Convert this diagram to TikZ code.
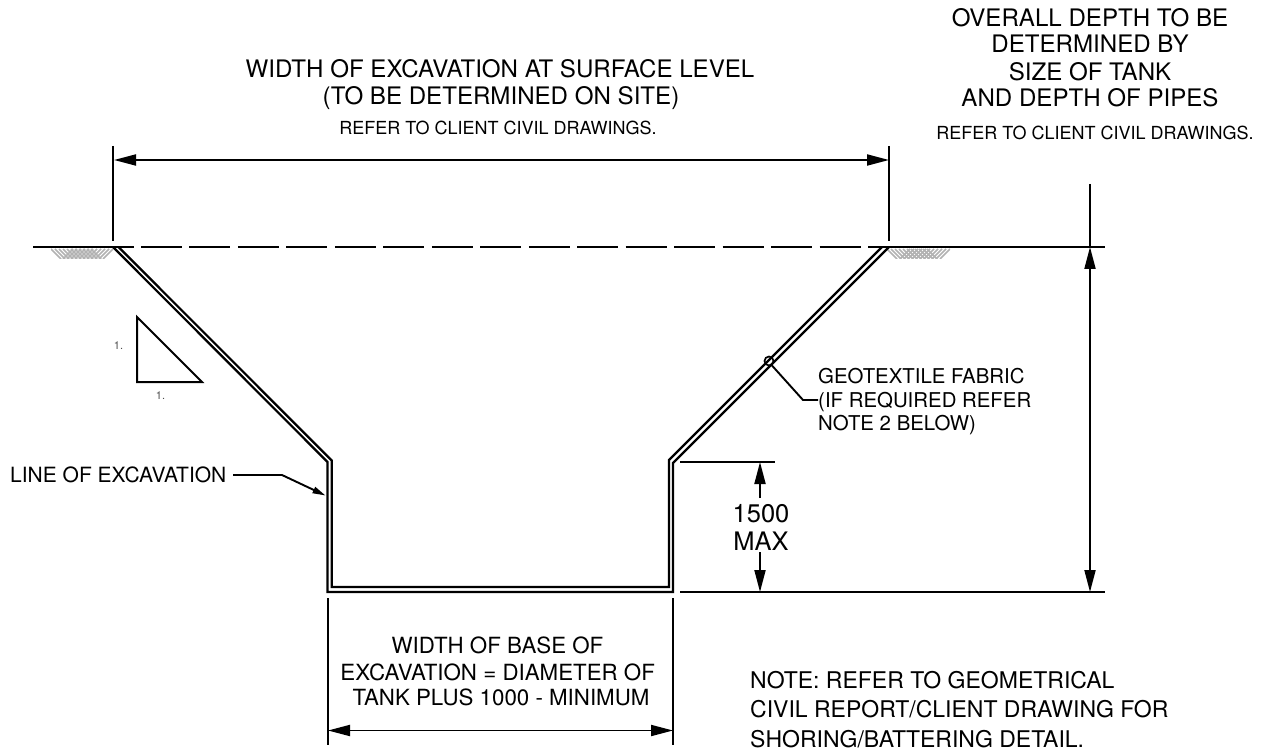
\documentclass[tikz,border=0pt]{standalone}
\usepackage{fontspec}
\setmainfont{TeX Gyre Heros}
\usetikzlibrary{arrows.meta}
\tikzset{
  x=1pt,y=-1pt,
  ln/.style={line width=2pt,black},
  heavy/.style={line width=2.7pt,black},
  dbl/.style={line width=2.2pt,black,line join=miter},
  dim/.style={line width=1.9pt,black,{Triangle[length=22pt,width=11pt]}-{Triangle[length=22pt,width=11pt]}},
  dimend/.style={line width=1.9pt,black,-{Triangle[length=22pt,width=11pt]}},
  lead/.style={line width=1.9pt,black},
  hatchline/.style={line width=1.6pt,black!30},
  big/.style={inner sep=0pt,anchor=base,font=\fontsize{24.1}{26}\selectfont},
  mid/.style={inner sep=0pt,anchor=base,font=\fontsize{18}{20}\selectfont},
  base/.style={inner sep=0pt,anchor=base,font=\fontsize{22.3}{24}\selectfont},
  note/.style={inner sep=0pt,anchor=base west,font=\fontsize{23}{24}\selectfont},
  midl/.style={inner sep=0pt,anchor=base west,font=\fontsize{20.4}{22}\selectfont},
  tiny1/.style={inner sep=0pt,anchor=base,text=black!70,font=\fontsize{11}{12}\selectfont},
  huge1/.style={inner sep=0pt,anchor=base,font=\fontsize{25.5}{26}\selectfont},
}
\begin{document}
\begin{tikzpicture}
\useasboundingbox (0,0) rectangle (1266,751);
% ground hatching
\begin{scope}
\clip (51,249) rectangle (113,259);
\foreach \i in {0,...,10}{
  \draw[hatchline] (51+\i*4,249) -- (51+\i*4+10,259);
  \draw[hatchline] (113-\i*4,249) -- (113-\i*4-10,259);
}
\end{scope}
\begin{scope}
\clip (887,249) rectangle (950,259);
\foreach \i in {0,...,10}{
  \draw[hatchline] (887+\i*4,249) -- (887+\i*4+10,259);
  \draw[hatchline] (950-\i*4,249) -- (950-\i*4-10,259);
}
\end{scope}
% named points
\coordinate (gl) at (33,247);
\coordinate (gA) at (113,247);
\coordinate (gB) at (889,247);
\coordinate (gC) at (968,247);
\coordinate (gD) at (1105,247);
\coordinate (gA2) at (134,247);
\coordinate (d1) at (141,247);
\coordinate (d2) at (868,247);
% ground line
\draw[heavy] (gl) -- (gA);
\draw[ln] (gA) -- (gA2);
\draw[ln,dash pattern=on 41pt off 7.47pt] (d1) -- (d2);
\draw[ln] (d2) -- (gB);
\draw[heavy] (gB) -- (gC);
\draw[ln] (gC) -- (gD);
% excavation double line
\coordinate (o1) at (113,247);
\coordinate (o2) at (327.5,462);
\coordinate (o3) at (327.5,592);
\coordinate (o4) at (673,592);
\coordinate (o5) at (673,463);
\coordinate (o6) at (889,247);
\coordinate (i1) at (118.5,247);
\coordinate (i2) at (331.7,460.5);
\coordinate (i3) at (331.7,587);
\coordinate (i4) at (669,587);
\coordinate (i5) at (669,460);
\coordinate (i6) at (882,247);
\draw[dbl] (o1) -- (o2) -- (o3) -- (o4) -- (o5) -- (o6);
\draw[dbl] (i1) -- (i2) -- (i3) -- (i4) -- (i5) -- (i6);
% top width dimension
\coordinate (ta) at (113,146);
\coordinate (tb) at (113,241);
\coordinate (tc) at (889,146);
\coordinate (td) at (889,241);
\coordinate (ah1) at (114,160);
\coordinate (ah2) at (889,160);
\draw[ln] (ta) -- (tb);
\draw[ln] (tc) -- (td);
\draw[dim] (ah1) -- (ah2);
% depth dimension
\coordinate (vt) at (1090,184);
\coordinate (v1) at (1090,247);
\coordinate (v2) at (1090,592);
\draw[ln] (vt) -- (v1);
\draw[dim] (v1) -- (v2);
% 1500 max
\coordinate (e1) at (680,462);
\coordinate (e2) at (775,462);
\coordinate (e3) at (680,592);
\coordinate (e4) at (1105,592);
\draw[ln] (e1) -- (e2);
\draw[ln] (e3) -- (e4);
\coordinate (m1) at (760,498);
\coordinate (m2) at (760,462);
\coordinate (m3) at (760,552);
\coordinate (m4) at (760,592);
\draw[dimend] (m1) -- (m2);
\draw[dimend] (m3) -- (m4);
% base width dimension
\coordinate (b1) at (328,598);
\coordinate (b2) at (328,745);
\coordinate (b3) at (673,598);
\coordinate (b4) at (673,745);
\coordinate (b5) at (328,730.5);
\coordinate (b6) at (673,730.5);
\draw[ln] (b1) -- (b2);
\draw[ln] (b3) -- (b4);
\draw[dim] (b5) -- (b6);
% slope triangle
\coordinate (s1) at (137,317);
\coordinate (s2) at (137,382);
\coordinate (s3) at (202,382);
\draw[ln,line join=miter] (s1) -- (s2) -- (s3) -- cycle;
% leaders
\coordinate (g0) at (769,361);
\coordinate (g1) at (771.5,365);
\coordinate (g2) at (803,400);
\coordinate (g3) at (818,400);
\draw[line width=1.7pt] (g0) circle (4.5);
\draw[lead] (g1) -- (g2) -- (g3);
\coordinate (l0) at (233,475);
\coordinate (l1) at (282,475);
\coordinate (l2) at (325.5,495.5);
\draw[lead,-{Triangle[length=13pt,width=6.5pt]}] (l0) -- (l1) -- (l2);
% text
\node[big] (t1) at (500,78) {WIDTH OF EXCAVATION AT SURFACE LEVEL};
\node[big] (t2) at (501,105) {(TO BE DETERMINED ON SITE)};
\node[mid] (t3) at (498,135) {REFER TO CLIENT CIVIL DRAWINGS.};
\node[big] (u1) at (1090,27) {OVERALL DEPTH TO BE};
\node[big] (u2) at (1090,53) {DETERMINED BY};
\node[big] (u3) at (1090,81) {SIZE OF TANK};
\node[big] (u4) at (1090,107) {AND DEPTH OF PIPES};
\node[mid] (u5) at (1095,140) {REFER TO CLIENT CIVIL DRAWINGS.};
\node[base] (w1) at (497.5,653) {WIDTH OF BASE OF};
\node[base] (w2) at (497.7,680) {EXCAVATION = DIAMETER OF};
\node[base] (w3) at (501,705) {TANK PLUS 1000 - MINIMUM};
\node[note] (n1) at (750,688) {NOTE: REFER TO GEOMETRICAL};
\node[note] (n2) at (750,717) {CIVIL REPORT/CLIENT DRAWING FOR};
\node[note] (n3) at (750,747) {SHORING/BATTERING DETAIL.};
\node[midl] (f1) at (818,383) {GEOTEXTILE FABRIC};
\node[midl] (f2) at (818,407) {(IF REQUIRED REFER};
\node[midl] (f3) at (818,430) {NOTE 2 BELOW)};
\node[huge1] (k1) at (761,522) {1500};
\node[huge1] (k2) at (761,550) {MAX};
\node[inner sep=0pt,anchor=base west,font=\fontsize{21}{22}\selectfont] (le) at (10,482) {LINE OF EXCAVATION};
\node[tiny1] (o1t) at (118.5,349) {1.};
\node[tiny1] (o2t) at (160.5,399) {1.};
\end{tikzpicture}
\end{document}
